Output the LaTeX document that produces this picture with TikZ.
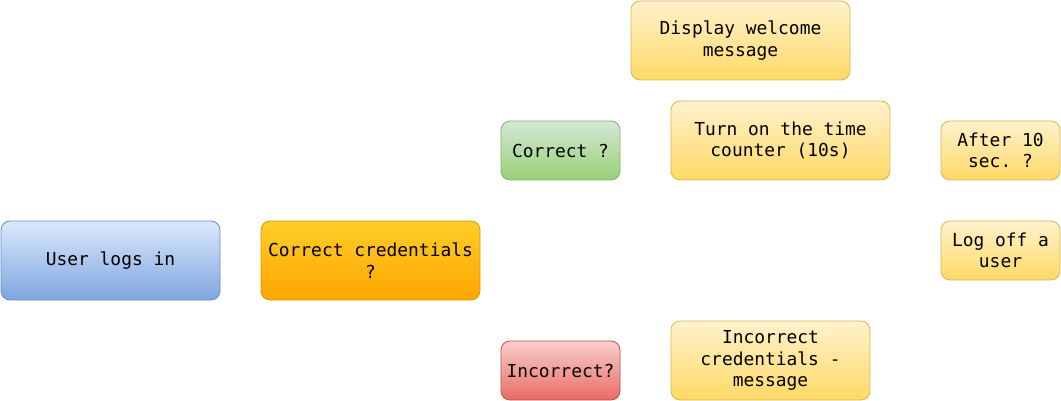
\documentclass[tikz,border=0pt]{standalone}
\usepackage{fontspec}
\setmonofont{DejaVu Sans Mono}
\definecolor{bluetop}{HTML}{DAE8FC}
\definecolor{bluebot}{HTML}{7EA6E0}
\definecolor{blueline}{HTML}{6C8EBF}
\definecolor{orangetop}{HTML}{FFCD28}
\definecolor{orangebot}{HTML}{FFA500}
\definecolor{orangeline}{HTML}{D79B00}
\definecolor{greentop}{HTML}{D5E8D4}
\definecolor{greenbot}{HTML}{97D077}
\definecolor{greenline}{HTML}{82B366}
\definecolor{redtop}{HTML}{F8CECC}
\definecolor{redbot}{HTML}{EA6B66}
\definecolor{redline}{HTML}{B85450}
\definecolor{yeltop}{HTML}{FFF2CC}
\definecolor{yelbot}{HTML}{FFD966}
\definecolor{yelline}{HTML}{D6B656}
\begin{document}
\begin{tikzpicture}[x=1pt,y=-1pt,
  box/.style={rectangle, rounded corners=9pt, line width=0.8pt, inner sep=0pt,
    align=center, font=\ttfamily\fontsize{17.9pt}{21.5pt}\selectfont},
  bluebox/.style={box, draw=blueline, top color=bluetop, bottom color=bluebot},
  orangebox/.style={box, draw=orangeline, top color=orangetop, bottom color=orangebot},
  greenbox/.style={box, draw=greenline, top color=greentop, bottom color=greenbot},
  redbox/.style={box, draw=redline, top color=redtop, bottom color=redbot},
  yelbox/.style={box, draw=yelline, top color=yeltop, bottom color=yelbot},
  wide/.style={minimum width=219pt, minimum height=79pt},
]
\useasboundingbox (0,0) rectangle (1061,401);
\node[bluebox, wide] (user) at (110.5,260.5) {User logs in};
\node[orangebox, wide] (cred) at (370.5,260.5) {Correct credentials\\?};
\node[greenbox, minimum width=119pt, minimum height=59pt] (correct) at (560.5,150.5) {Correct ?};
\node[redbox, minimum width=119pt, minimum height=59pt] (incorrect) at (560.5,370.5) {Incorrect?};
\node[yelbox, wide] (welcome) at (740.5,40.5) {Display welcome\\message};
\node[yelbox, wide] (timer) at (780.5,140.5) {Turn on the time\\counter (10s)};
\node[yelbox, minimum width=119pt, minimum height=59pt] (after) at (1000.5,150.5) {After 10\\sec. ?};
\node[yelbox, minimum width=119pt, minimum height=59pt] (logoff) at (1000.5,250.5) {Log off a\\user};
\node[yelbox, minimum width=199pt, minimum height=79pt] (msg) at (770.5,360.5) {Incorrect\\credentials -\\message};
\end{tikzpicture}
\end{document}
